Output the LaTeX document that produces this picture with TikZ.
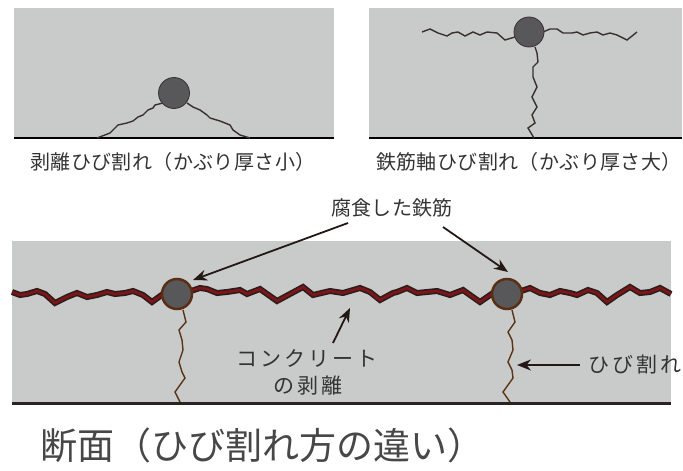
\documentclass[tikz,border=0pt]{standalone}
\usepackage{fontspec}
\usetikzlibrary{arrows.meta}
\newfontfamily\jp{Noto Sans CJK JP}
\newfontfamily\jpwide[LetterSpace=2]{Noto Sans CJK JP}
\newfontfamily\jpwider[LetterSpace=14]{Noto Sans CJK JP}
\definecolor{concrete}{HTML}{C9CBCA}
\definecolor{rebar}{HTML}{58585A}
\definecolor{crackdark}{HTML}{3A3030}
\definecolor{baseline}{HTML}{6B5F5F}
\definecolor{floorline}{HTML}{2B2222}
\definecolor{rust}{HTML}{7B1518}
\definecolor{rustedge}{HTML}{2B1D1D}
\definecolor{rustring}{HTML}{5A2E12}
\definecolor{splitcrack}{HTML}{5A3416}
\definecolor{ink}{HTML}{333333}
\definecolor{arrowink}{HTML}{231815}
\tikzset{
  slab/.style={fill=concrete, draw=none},
  thinbar/.style={circle, fill=rebar, draw=crackdark, line width=0.8, inner sep=0pt},
  rustbar/.style={circle, fill=rebar, draw=rustring, line width=2.5, inner sep=0pt, minimum size=30},
  topcrack/.style={draw=crackdark, line width=1.4, line join=miter},
  delam/.style={line join=miter, line cap=butt},
  vcrack/.style={draw=splitcrack, line width=1.4},
  caption/.style={text=ink, font=\jpwide\fontsize{20}{24}\selectfont, inner sep=0pt},
  callout/.style={text=ink, font=\jpwide\fontsize{20}{24}\selectfont, inner sep=0pt},
  spaced/.style={text=ink, font=\jpwider\fontsize{21}{24}\selectfont, inner sep=0pt},
  arr/.style={draw=arrowink, line width=1.8, -{Stealth[length=14, width=11]}}
}
\begin{document}
\begin{tikzpicture}[x=1pt, y=-1pt]
\useasboundingbox (0,0) rectangle (683,471);

% --- small cover: delamination ---
\fill[slab] (14,8) rectangle (334,138);
\draw[baseline, line width=1.2] (14,138) -- (334,138);
\draw[topcrack] (97,138) -- (110,133) -- (118,125) -- (127,123) -- (133,121) -- (138,117)
  -- (143,115) -- (148,110) -- (153,108) -- (155,105) -- (163,103);
\draw[topcrack] (187,103) -- (193,107) -- (200,110) -- (207,115) -- (210,118) -- (220,121)
  -- (230,125) -- (233,130) -- (240,135) -- (250,138);
\node[thinbar, minimum size=31] (b1) at (174,93) {};
\node[caption] (cap1) at (173,162) {剥離ひび割れ（かぶり厚さ小）};

% --- large cover: cracks along the bar ---
\fill[slab] (369,8) rectangle (682,138);
\draw[baseline, line width=1.2] (369,138) -- (682,138);
\draw[topcrack] (422,32) -- (430,29) -- (438,33) -- (447,36) -- (452,33) -- (458,32) -- (465,36)
  -- (473,32) -- (480,35) -- (487,32) -- (497,33) -- (505,40) -- (515,37);
\draw[topcrack] (543,32) -- (550,29) -- (557,29) -- (563,33) -- (572,33) -- (577,32) -- (583,35)
  -- (590,33) -- (597,32) -- (603,35) -- (610,33) -- (617,35) -- (627,40) -- (637,32);
\draw[topcrack] (535,47) -- (537,53) -- (538,62) -- (533,67) -- (533,77) -- (537,87) -- (532,97)
  -- (537,107) -- (532,115) -- (535,123) -- (528,128) -- (534,138);
\node[thinbar, minimum size=30] (b2) at (529,32) {};
\node[caption] (cap2) at (529,162) {鉄筋軸ひび割れ（かぶり厚さ大）};

% --- cross section with corroded bars ---
\fill[slab] (12,241) rectangle (671,403);
% delamination plane through both bars
\foreach \w/\c in {6/rustedge, 2.8/rust}{
  \draw[delam, draw=\c, line width=\w] (12,292) -- (20,295) -- (27,294) -- (37,291) -- (45,294)
    -- (55,303) -- (67,297) -- (77,293) -- (87,297) -- (97,295) -- (107,292) -- (115,294)
    -- (125,293) -- (133,291) -- (143,295) -- (152,302) -- (163,294);
  \draw[delam, draw=\c, line width=\w] (191,291) -- (200,288) -- (207,289) -- (217,293) -- (227,292)
    -- (240,290) -- (247,294) -- (260,289) -- (277,301) -- (290,294) -- (303,287) -- (313,295)
    -- (330,291) -- (343,293) -- (360,288) -- (370,292) -- (380,300) -- (393,293) -- (397,292)
    -- (407,288) -- (417,293) -- (437,291) -- (450,295) -- (463,290) -- (470,295) -- (480,302)
    -- (493,293);
  \draw[delam, draw=\c, line width=\w] (521,291) -- (530,288) -- (540,293) -- (550,295) -- (560,291)
    -- (570,293) -- (577,295) -- (588,290) -- (597,293) -- (607,302) -- (617,295) -- (630,287)
    -- (640,293) -- (650,292) -- (660,288) -- (671,294);
}
\draw[vcrack] (183,310) -- (186,322) -- (179,330) -- (182,340) -- (183,350) -- (179,362)
  -- (182,372) -- (185,378) -- (175,392) -- (180,402);
\draw[vcrack] (512,310) -- (515,322) -- (508,332) -- (512,340) -- (513,350) -- (508,362)
  -- (512,370) -- (513,378) -- (503,392) -- (510,402);
\node[rustbar] (c1) at (177,294) {};
\node[rustbar] (c2) at (507,294) {};
\draw[floorline, line width=3] (12,403) -- (671,403);

% callouts
\node[callout] (corr) at (392,208) {腐食した鉄筋};
\node[spaced] (conc) at (307,358) {コンクリート};
\node[spaced] (peel) at (308,386) {の剥離};
\node[spaced, anchor=west] (crk) at (588,365) {ひび割れ};

\coordinate (a1s) at (348,223);
\coordinate (a1e) at (193,280);
\coordinate (a2s) at (443,227);
\coordinate (a2e) at (508,272);
\coordinate (a3s) at (333,343);
\coordinate (a3e) at (350,308);
\coordinate (a4s) at (580,365);
\coordinate (a4e) at (517,365);
\draw[arr] (a1s) -- (a1e);
\draw[arr] (a2s) -- (a2e);
\draw[arr] (a3s) -- (a3e);
\draw[arr] (a4s) -- (a4e);

% title
\node[anchor=west, inner sep=0pt, text=ink!90!white, font=\jp\fontsize{37}{40}\selectfont] (title) at (40,445) {断面（ひび割れ方の違い）};
\end{tikzpicture}
\end{document}
